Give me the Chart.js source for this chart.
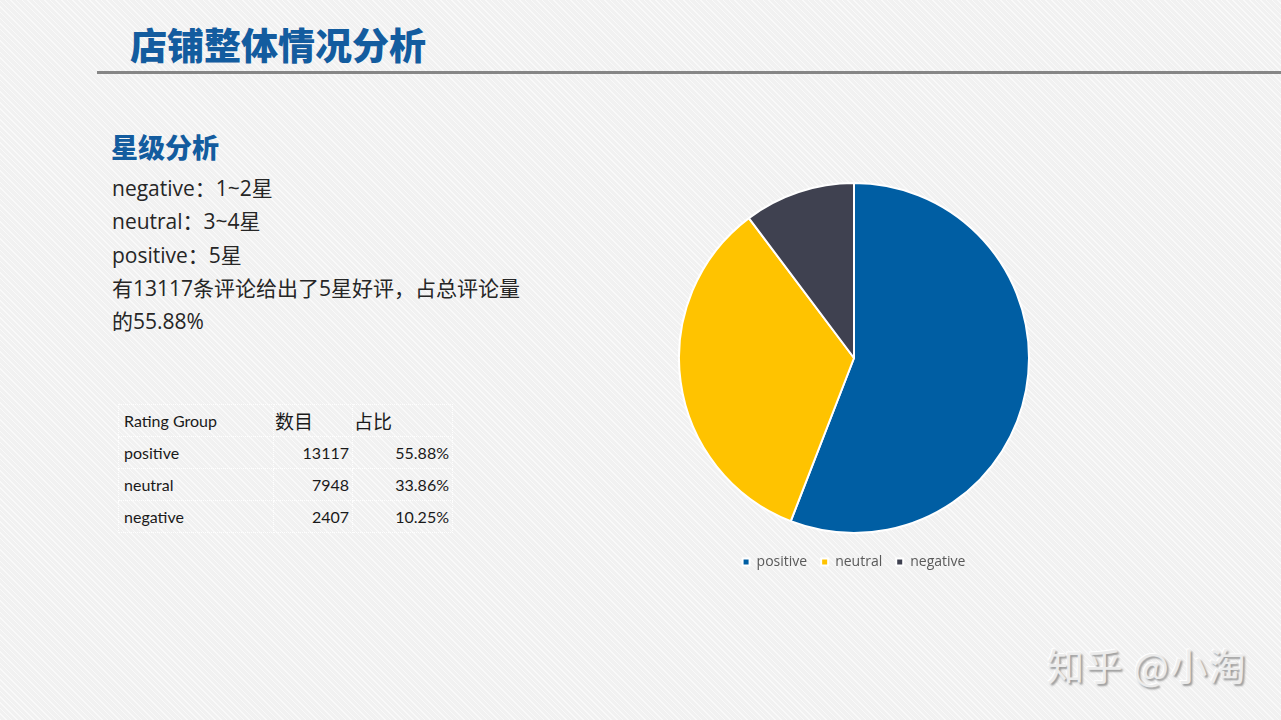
<!DOCTYPE html>
<html><head><meta charset="utf-8">
<script src="https://cdn.jsdelivr.net/npm/chart.js@4"></script>
<style>
html,body{margin:0;padding:0;}
body{width:1281px;height:720px;position:relative;overflow:hidden;
 background:#f1f1f1;
 background-image:repeating-linear-gradient(45deg, rgba(255,255,255,0.6) 0px, rgba(255,255,255,0.6) 1px, rgba(0,0,0,0) 1px, rgba(0,0,0,0) 4px);
 font-family:"Noto Sans CJK SC","Noto Sans",sans-serif;}
.abs{position:absolute;white-space:nowrap;}
#title{left:130px;top:19px;font-size:37px;font-weight:900;color:#135c9f;line-height:50px;letter-spacing:0px;}
#rule{left:97px;top:71px;width:1184px;height:3px;background:#868686;}
#sub{left:111px;top:129px;font-size:27px;font-weight:900;color:#135c9f;line-height:36px;}
#body{left:112px;top:172px;font-family:"Open Sans","Noto Sans CJK SC",sans-serif;font-size:21px;color:#262626;line-height:33.3px;}
#tbl{left:118px;top:404px;border-collapse:collapse;color:#1a1a1a;}
#tbl td{border:1px dotted rgba(255,255,255,0.9);height:31px;padding:0 3px 0 5px;font-family:Lato,"Noto Sans CJK SC",sans-serif;font-size:16px;}
#tbl td.cjk{font-family:"Noto Sans CJK SC";font-size:19px;padding-left:1px;}
#tbl td.r{text-align:right;}
#wm{left:1047px;top:638px;font-size:37px;color:#ececec;text-shadow:2px 2px 2px #9a9a9a, -1px -1px 0 #ffffff;letter-spacing:1.5px;}
#cw{position:absolute;left:678px;top:175px;width:352px;height:404px;}
</style></head>
<body>
<div id="title" class="abs">店铺整体情况分析</div>
<div id="rule" class="abs"></div>
<div id="sub" class="abs">星级分析</div>
<div id="body" class="abs">negative：1~2星<br>neutral：3~4星<br>positive：5星<br>有13117条评论给出了5星好评，占总评论量<br>的55.88%</div>
<table id="tbl" class="abs">
<tr><td style="width:146px">Rating Group</td><td class="cjk" style="width:74px">数目</td><td class="cjk" style="width:95px">占比</td></tr>
<tr><td>positive</td><td class="r">13117</td><td class="r">55.88%</td></tr>
<tr><td>neutral</td><td class="r">7948</td><td class="r">33.86%</td></tr>
<tr><td>negative</td><td class="r">2407</td><td class="r">10.25%</td></tr>
</table>
<div id="wm" class="abs">知乎 @小淘</div>
<div id="cw"><canvas id="c"></canvas></div>
<script>
const categories = ["positive", "neutral", "negative"];
const counts = [13117, 7948, 2407];
const sliceColors = ["#005ea3", "#ffc300", "#3f4150"];

new Chart(document.getElementById('c'), {
  type: 'pie',
  data: {
    labels: categories,
    datasets: [{
      data: counts,
      backgroundColor: sliceColors,
      borderColor: '#ffffff',
      borderWidth: 2
    }]
  },
  options: {
    responsive: true,
    maintainAspectRatio: false,
    animation: false,
    layout: { padding: 0 },
    plugins: {
      tooltip: { enabled: false },
      legend: {
        position: 'bottom',
        labels: {
          boxWidth: 7, boxHeight: 7, padding: 14,
          color: '#595959',
          font: { family: 'Open Sans', size: 14 }
        }
      }
    }
  }
});
</script>
</body></html>
